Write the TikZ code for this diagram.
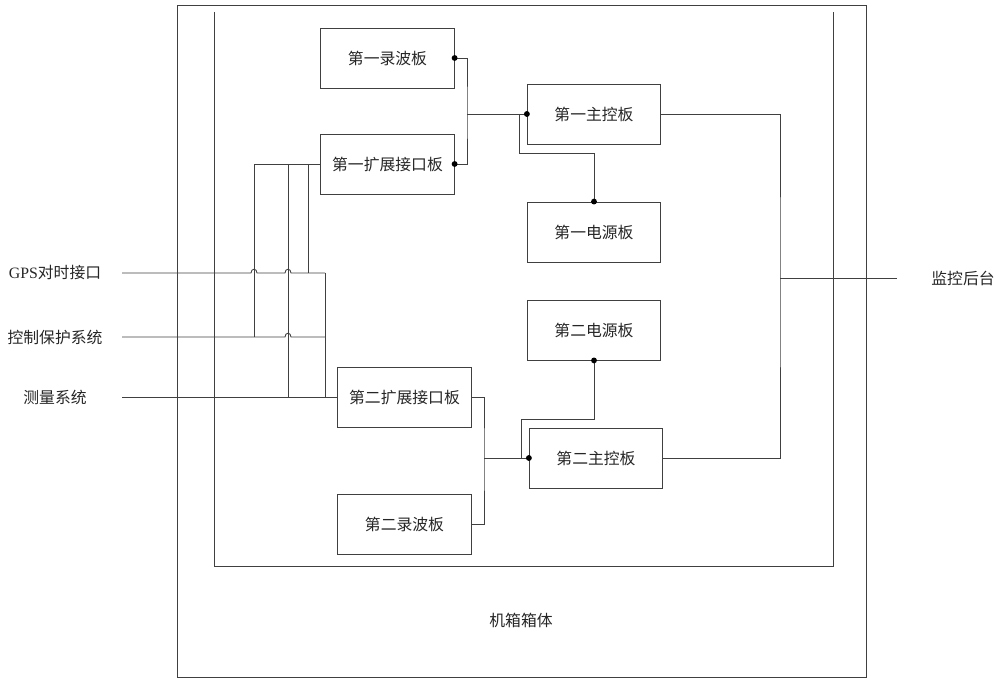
\documentclass[tikz,border=0pt]{standalone}
\usepackage{fontspec}
\setmainfont{Liberation Serif}
\newfontfamily\cjk{Noto Sans CJK SC}
\usetikzlibrary{positioning, calc}

\begin{document}
\begin{tikzpicture}[x=0.03cm, y=-0.03cm,
		wire/.style={draw=black!75, line width=0.75pt},
		board/.style={draw=black!75, line width=0.75pt, inner sep=0pt,
			minimum width=4.0cm, minimum height=1.8cm,
			font=\cjk\fontsize{13.5pt}{15pt}\selectfont, text=black!85},
		lbl/.style={inner sep=0pt, font=\cjk\fontsize{13.5pt}{15pt}\selectfont, text=black!85},
		dot/.style={circle, fill=black, inner sep=0pt, minimum size=5pt}]
		\useasboundingbox (0,0) rectangle (1000,683);
		% Chassis
		\draw[wire] (177,5) rectangle (866,677);
		\draw[wire] (214,12) -- (214,566) -- (833,566) -- (833,12);
		\node[lbl] (case) at (521,620) {机箱箱体};

		% Boards
		\node[board] (lb1) at (387.5,58) {第一录波板};
		\node[board] (kz1) at (387.5,164) {第一扩展接口板};
		\node[board] (zk1) at (594,114) {第一主控板};
		\node[board] (dy1) at (594,232) {第一电源板};
		\node[board] (dy2) at (594,330) {第二电源板};
		\node[board] (kz2) at (404.5,397) {第二扩展接口板};
		\node[board] (zk2) at (596,458) {第二主控板};
		\node[board] (lb2) at (404.5,524) {第二录波板};

		% Outside systems
		\node[lbl] (gps) at (55,273) {{\rmfamily GPS}对时接口};
		\node[lbl] (kzbh) at (55,337) {控制保护系统};
		\node[lbl] (clxt) at (55,397) {测量系统};
		\node[lbl] (jkht) at (963,278) {监控后台};
		\coordinate (gpsin) at (122,273);
		\coordinate (kzbhin) at (122,337);
		\coordinate (clxtin) at (122,397);
		\coordinate (jkhtin) at (897,278);

		% First group
		\draw[wire] (lb1.east) -| (467,114) |- (kz1.east);
		\coordinate (bus1) at (467,114);
		\draw[wire] (bus1) -- (zk1.west);
		\draw[wire] (519,114) -- (519,153) -| (dy1.north);
		\node[dot] (d1) at (lb1.east) {};
		\node[dot] (d2) at (kz1.east) {};
		\node[dot] (d3) at (zk1.west) {};
		\node[dot] (d4) at (dy1.north) {};

		% Second group
		\draw[wire] (kz2.east) -| (484,458) |- (lb2.east);
		\coordinate (bus2) at (484,458);
		\draw[wire] (bus2) -- (zk2.west);
		\draw[wire] (dy2.south) |- (521,419) -- (521,458);
		\node[dot] (d5) at (zk2.west) {};
		\node[dot] (d6) at (dy2.south) {};

		% To the monitor
		\draw[wire] (zk1.east) -| (780,278) |- (zk2.east);
		\coordinate (mon) at (780,278);
		\draw[wire] (mon) -- (jkhtin);

		% Inputs, with hops over the crossing wires
		\draw[wire] (gpsin) -- (251,273) .. controls (251,268) and (257,268) .. (257,273)
			-- (285,273) .. controls (285,268) and (291,268) .. (291,273) -- (325,273);
		\draw[wire] (kzbhin) -- (285,337) .. controls (285,332) and (291,332) .. (291,337) -- (325,337);
		\draw[wire] (clxtin) -- (kz2.west);
		\draw[wire] (254,337) |- (kz1.west);
		\draw[wire] (288,397) -- (288,164);
		\draw[wire] (308,273) -- (308,164);
		\draw[wire] (325,273) -- (325,397);
	\end{tikzpicture}
\end{document}
